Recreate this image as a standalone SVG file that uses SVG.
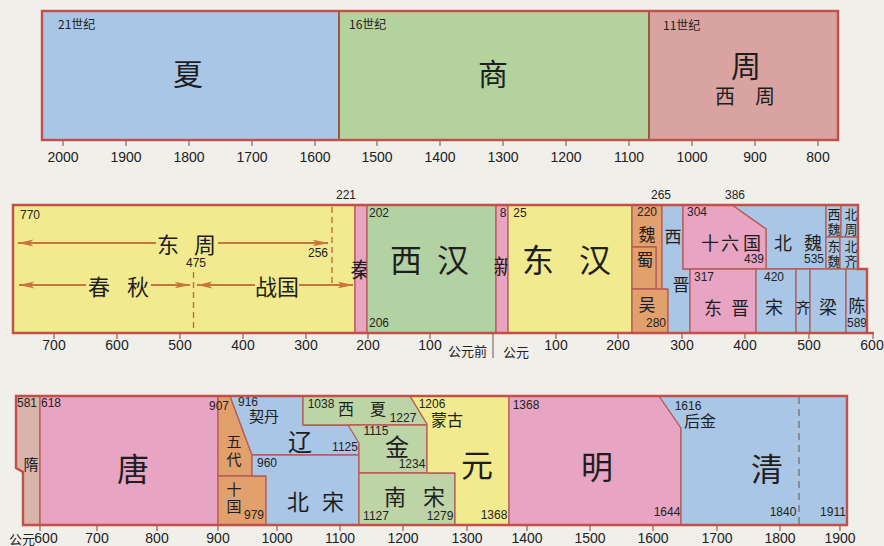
<svg xmlns="http://www.w3.org/2000/svg" width="884" height="546" viewBox="0 0 884 546">
<defs>
<marker id="ah" viewBox="0 0 16 8" refX="15.5" refY="4" markerWidth="16" markerHeight="8" markerUnits="userSpaceOnUse" orient="auto"><path d="M0,0.6 L16,4 L0,7.4 L4,4 Z" fill="#c8743c"/></marker>
</defs>
<style>
.bl{fill:#a9c6e6}
.gr{fill:#b4d29e}
.gr2{fill:#b3d2a3}
.gr3{fill:#bdd4a7}
.pb{fill:#d9a3a1}
.ye{fill:#f2ea8e}
.pk{fill:#e8a4c3}
.or{fill:#e2a06c}
.su{fill:#d8b4ab}
.nd{stroke:#b65d55;stroke-width:1.3;stroke-linejoin:round}
.fr{fill:none;stroke:#c24f48;stroke-width:2.4;stroke-linejoin:miter}
.tk{stroke:#a05a55;stroke-width:1.2}
.ar{stroke:#c8743c;stroke-width:2;fill:none}
.ds{stroke:#c0703c;stroke-width:1.4;stroke-dasharray:6,4;fill:none}
.ds2{stroke:#777;stroke-width:1.4;stroke-dasharray:7,5;fill:none}
.t{font-family:"Noto Sans CJK SC","Noto Sans",sans-serif;fill:#1e1e1e;text-anchor:middle;dominant-baseline:central}
.n{font-family:"Liberation Sans",Arial,sans-serif;font-size:12px;fill:#222;text-anchor:middle;dominant-baseline:central}
.ax{font-family:"Liberation Sans",Arial,sans-serif;font-size:14px;fill:#222;text-anchor:middle;dominant-baseline:central}
.big{font-size:32px}
.mid{font-size:22px}
.sm{font-size:17px}
.xs{font-size:13px}
.cs{font-family:"Noto Sans CJK SC",sans-serif;font-size:12px;fill:#222;dominant-baseline:central}
</style>
<rect width="884" height="546" fill="#f1efea"/>

<!-- Row 1 -->
<g id="xia"><rect class="bl" x="42" y="11" width="297" height="129"/><text class="cs" x="58" y="23">21世纪</text><text class="t" style="font-size:30px" x="188" y="72">夏</text></g>
<g id="shang"><rect class="gr" x="339" y="11" width="310" height="129"/><text class="cs" x="349" y="23">16世纪</text><text class="t" style="font-size:30px" x="493" y="72">商</text></g>
<g id="zhou"><rect class="pb" x="649" y="11" width="189" height="129"/><text class="cs" x="663" y="24">11世纪</text><text class="t" style="font-size:30px" x="746" y="64">周</text><text class="t" style="font-size:20px" y="95"><tspan x="725">西</tspan><tspan x="765">周</tspan></text></g>
<g id="row1-frame"><line x1="339" y1="11" x2="339" y2="140" stroke="#9a5a45" stroke-width="2"/><line x1="649" y1="11" x2="649" y2="140" stroke="#9a5a45" stroke-width="2"/><rect class="fr" x="42" y="11" width="796" height="129"/></g>

<!-- Row 2 -->
<g id="dongzhou"><rect class="ye nd" x="13" y="205" width="342" height="128"/><text class="n" x="30" y="215">770</text><text class="n" x="346" y="195">221</text><text class="n" x="318" y="253">256</text><text class="n" x="196" y="263">475</text>
<path class="ds" d="M332,207 V283"/><path class="ds" d="M193.5,272 V331"/>
<text class="t mid" x="168" y="243">东</text><text class="t mid" x="205" y="243">周</text>
<text class="t mid" x="99" y="285">春</text><text class="t mid" x="138" y="285">秋</text>
<text class="t mid" x="277" y="285">战国</text></g>
<g id="qin"><rect class="pk nd" x="355" y="205" width="12" height="128"/><text class="t" style="font-size:21px" x="361" y="268">秦</text></g>
<g id="xihan"><rect class="gr2 nd" x="367" y="205" width="129" height="128"/><text class="n" x="379" y="213">202</text><text class="n" x="379" y="323">206</text><text class="t big" x="406" y="258">西</text><text class="t big" x="453" y="258">汉</text></g>
<g id="xin"><rect class="pk nd" x="496" y="205" width="12" height="128"/><text class="t" style="font-size:21px" x="504" y="265">新</text><text class="n" x="503" y="213">8</text></g>
<g id="donghan"><rect class="ye nd" x="508" y="205" width="124" height="128"/><text class="n" x="520" y="213">25</text><text class="t big" x="538" y="258">东</text><text class="t big" x="595" y="258">汉</text></g>
<g id="wei"><path class="or nd" d="M632,205 H662 V289 H656 V247 H632 Z"/><text class="n" x="647" y="212">220</text><text class="t sm" x="647" y="233">魏</text><text class="n" x="661" y="195">265</text></g>
<g id="shu"><rect class="or nd" x="632" y="247" width="24" height="42"/><text class="t sm" x="645" y="258">蜀</text></g>
<g id="wu"><rect class="or nd" x="632" y="289" width="36" height="44"/><text class="t sm" x="647" y="303">吴</text><text class="n" x="656" y="323">280</text></g>
<g id="xijin"><path class="bl nd" d="M662,205 H683 V269 H690 V333 H668 V289 H662 Z"/><text class="t sm" x="673" y="235">西</text><text class="t sm" x="681" y="283">晋</text></g>
<g id="beiwei"><path class="bl nd" d="M732,205 H826 V269 H766 V229 Z"/><text class="t" style="font-size:18px" x="783" y="242">北</text><text class="t" style="font-size:18px" x="813" y="242">魏</text><text class="n" x="814" y="259">535</text></g>
<g id="shiliuguo"><path class="pk nd" d="M683,205 H732 L766,229 V269 H683 Z"/><text class="n" x="697" y="212">304</text><text class="n" x="735" y="195">386</text><text class="t" style="font-size:18px" x="710" y="242">十</text><text class="t" style="font-size:18px" x="730" y="242">六</text><text class="t" style="font-size:18px" x="752" y="242">国</text><text class="n" x="754" y="259">439</text></g>
<g id="dongjin"><rect class="pk nd" x="690" y="269" width="66" height="64"/><text class="n" x="704" y="277">317</text><text class="t" style="font-size:18px" x="713" y="307">东</text><text class="t" style="font-size:18px" x="740" y="307">晋</text></g>
<g id="xiwei"><rect class="bl nd" x="826" y="205" width="15" height="32"/><text class="t xs" x="834" y="213">西</text><text class="t xs" x="834" y="228">魏</text></g>
<g id="beizhou"><rect class="bl nd" x="841" y="205" width="17" height="32"/><text class="t xs" x="851" y="213">北</text><text class="t xs" x="851" y="228">周</text></g>
<g id="dongwei"><rect class="bl nd" x="826" y="237" width="14" height="32"/><text class="t xs" x="834" y="245">东</text><text class="t xs" x="834" y="260">魏</text></g>
<g id="beiqi"><rect class="bl nd" x="840" y="237" width="18" height="32"/><text class="t xs" x="851" y="245">北</text><text class="t xs" x="851" y="260">齐</text></g>
<g id="song"><rect class="bl nd" x="756" y="269" width="40" height="64"/><text class="n" x="774" y="277">420</text><text class="t" style="font-size:18px" x="774" y="306">宋</text></g>
<g id="qi"><rect class="bl nd" x="796" y="269" width="14" height="64"/><text class="t" style="font-size:15px" x="803" y="306">齐</text></g>
<g id="liang"><rect class="bl nd" x="810" y="269" width="36" height="64"/><text class="t" style="font-size:18px" x="828" y="306">梁</text></g>
<g id="chen"><rect class="bl nd" x="846" y="269" width="21" height="64"/><text class="t sm" x="857" y="304">陈</text><text class="n" x="857" y="323">589</text></g>
<g id="row2-frame"><path class="fr" d="M13,205 H858 V269 H867 V333 H13 Z"/><line x1="867" y1="333" x2="874" y2="333" stroke="#c24f48" stroke-width="2.4"/></g>

<!-- Row 3 -->
<g id="sui"><path class="su nd" d="M16,396 H40 V525 H23 V472 L16,468 Z"/><text class="n" x="27" y="403">581</text><text class="t" style="font-size:15px" x="31" y="463">隋</text></g>
<g id="tang"><rect class="pk nd" x="40" y="396" width="178" height="129"/><text class="n" x="51" y="403">618</text><text class="t big" x="133" y="467">唐</text></g>
<g id="wudai"><path class="or nd" d="M218,396 H230 L252,455 V476 H218 Z"/><text class="n" x="219" y="406">907</text><text class="t" style="font-size:15px" x="234" y="440">五</text><text class="t" style="font-size:15px" x="234" y="458">代</text></g>
<g id="shiguo"><rect class="or nd" x="218" y="476" width="48" height="49"/><text class="t" style="font-size:15px" x="234" y="488">十</text><text class="t" style="font-size:15px" x="234" y="505">国</text><text class="n" x="254" y="515">979</text></g>
<g id="liao"><path class="bl nd" d="M230,396 H303 V425 H350 L359,443 V455 H252 Z"/><text class="n" x="248" y="402">916</text><text class="t" style="font-size:15px" x="264" y="415">契丹</text><text class="t" style="font-size:24px" x="300" y="440">辽</text><text class="n" x="345" y="447">1125</text></g>
<g id="beisong"><path class="bl nd" d="M252,455 H359 V525 H266 V476 H252 Z"/><text class="n" x="267" y="463">960</text><text class="t mid" x="298" y="500">北</text><text class="t mid" x="333" y="500">宋</text></g>
<g id="xixia"><path class="gr3 nd" d="M303,396 H410 L427,424 V425 H303 Z"/><text class="n" x="321" y="404">1038</text><text class="t" style="font-size:16px" x="346" y="408">西</text><text class="t" style="font-size:16px" x="378" y="408">夏</text><text class="n" x="403" y="418">1227</text></g>
<g id="jin"><path class="gr3 nd" d="M348,425 H427 V473 H359 V443 Z"/><text class="n" x="376" y="431">1115</text><text class="t" style="font-size:24px" x="397" y="445">金</text><text class="n" x="412" y="464">1234</text></g>
<g id="nansong"><rect class="gr3 nd" x="359" y="473" width="96" height="52"/><text class="t mid" x="395" y="495">南</text><text class="t mid" x="434" y="495">宋</text><text class="n" x="376" y="516">1127</text><text class="n" x="440" y="516">1279</text></g>
<g id="yuan"><path class="ye nd" d="M410,396 H509 V525 H455 V473 H427 V424 Z"/><text class="n" x="432" y="404">1206</text><text class="t" style="font-size:16px" x="447" y="419">蒙古</text><text class="t big" x="477" y="463">元</text><text class="n" x="494" y="515">1368</text></g>
<g id="ming"><path class="pk nd" d="M509,396 H659 L681,428 V525 H509 Z"/><text class="n" x="526" y="405">1368</text><text class="t big" x="597" y="465">明</text><text class="n" x="667" y="512">1644</text></g>
<g id="qing"><path class="bl nd" d="M659,396 H847 V525 H681 V428 Z"/><path class="ds2" d="M799,397 V524"/><text class="n" x="688" y="406">1616</text><text class="t" style="font-size:16px" x="700" y="420">后金</text><text class="t big" x="767" y="467">清</text><text class="n" x="783" y="512">1840</text><text class="n" x="833" y="512">1911</text></g>
<g id="row3-frame"><path class="fr" d="M16,396 H847 V525 H23 V472 L16,468 Z"/></g>

<!-- Connectors: period arrows -->
<g id="connectors">
<path class="ar" marker-end="url(#ah)" d="M156,243 H18"/>
<path class="ar" marker-end="url(#ah)" d="M218,243 H328"/>
<path class="ar" marker-end="url(#ah)" d="M86,285 H19"/>
<path class="ar" marker-end="url(#ah)" d="M151,285 H190"/>
<path class="ar" marker-end="url(#ah)" d="M255,285 H197"/>
<path class="ar" marker-end="url(#ah)" d="M299,285 H353"/>
</g>

<!-- Axes -->
<g id="axis1">
<path class="tk" d="M63,140V146M126,140V146M189,140V146M252,140V146M315,140V146M377,140V146M440,140V146M503,140V146M566,140V146M629,140V146M692,140V146M755,140V146M818,140V146"/>
<text class="ax" y="157"><tspan x="63">2000</tspan><tspan x="126">1900</tspan><tspan x="189">1800</tspan><tspan x="252">1700</tspan><tspan x="315">1600</tspan><tspan x="377">1500</tspan><tspan x="440">1400</tspan><tspan x="503">1300</tspan><tspan x="566">1200</tspan><tspan x="629">1100</tspan><tspan x="692">1000</tspan><tspan x="755">900</tspan><tspan x="818">800</tspan></text>
</g>
<g id="axis2">
<path class="tk" d="M54,333V339M117,333V339M180,333V339M243,333V339M306,333V339M368,333V339M430,333V339M556,333V339M618,333V339M682,333V339M745,333V339M809,333V339M873,333V339"/>
<line x1="493" y1="333" x2="493" y2="358" stroke="#8a6a65" stroke-width="1.2"/>
<text class="ax" y="345"><tspan x="54">700</tspan><tspan x="117">600</tspan><tspan x="180">500</tspan><tspan x="243">400</tspan><tspan x="306">300</tspan><tspan x="368">200</tspan><tspan x="430">100</tspan><tspan x="556">100</tspan><tspan x="618">200</tspan><tspan x="682">300</tspan><tspan x="745">400</tspan><tspan x="809">500</tspan><tspan x="872">600</tspan></text>
<text class="cs" x="487" y="350" style="text-anchor:end;font-size:13px">公元前</text>
<text class="cs" x="503" y="351" style="font-size:13px">公元</text>
</g>
<g id="axis3">
<path class="tk" d="M40,525V531M97,525V531M157,525V531M218,525V531M277,525V531M340,525V531M403,525V531M467,525V531M527,525V531M590,525V531M653,525V531M717,525V531M780,525V531M840,525V531"/>
<text class="cs" x="9" y="538" style="font-size:13px">公元</text>
<text class="ax" y="538"><tspan x="46">600</tspan><tspan x="97">700</tspan><tspan x="157">800</tspan><tspan x="218">900</tspan><tspan x="277">1000</tspan><tspan x="340">1100</tspan><tspan x="403">1200</tspan><tspan x="467">1300</tspan><tspan x="527">1400</tspan><tspan x="590">1500</tspan><tspan x="653">1600</tspan><tspan x="717">1700</tspan><tspan x="780">1800</tspan><tspan x="840">1900</tspan></text>
</g>
</svg>
